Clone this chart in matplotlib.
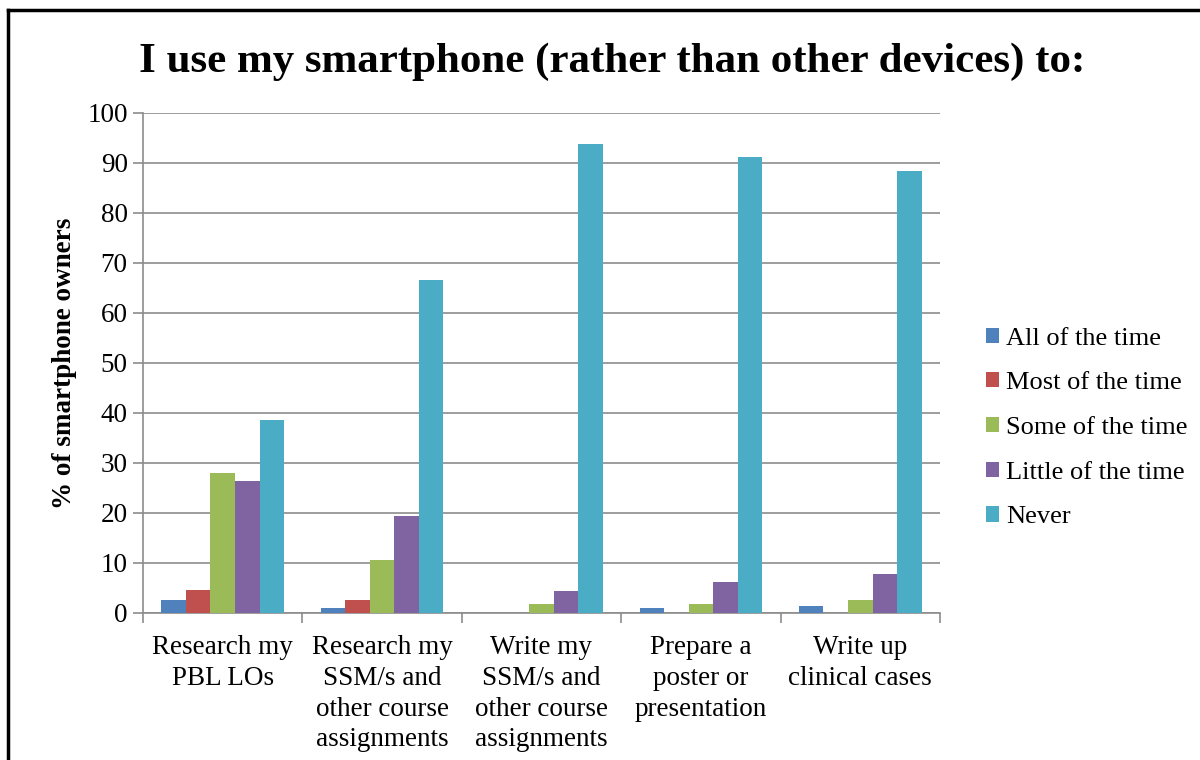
import numpy as np
import matplotlib.pyplot as plt
from matplotlib.lines import Line2D

plt.rcParams['font.family'] = ['Liberation Serif', 'DejaVu Serif']

categories = ["Research my\nPBL LOs",
              "Research my\nSSM/s and\nother course\nassignments",
              "Write my\nSSM/s and\nother course\nassignments",
              "Prepare a\nposter or\npresentation",
              "Write up\nclinical cases"]
series_names = ["All of the time", "Most of the time", "Some of the time",
                "Little of the time", "Never"]
all_time = [2.7, 1.0, 0, 1.0, 1.4]
most_time = [4.6, 2.7, 0, 0, 0]
some_time = [28.1, 10.6, 1.8, 1.8, 2.7]
little_time = [26.4, 19.4, 4.5, 6.3, 7.8]
never = [38.6, 66.6, 93.8, 91.2, 88.4]
colors = ["#4F81BD", "#C0504D", "#9BBB59", "#8064A2", "#4BACC6"]

series = [all_time, most_time, some_time, little_time, never]

fig = plt.figure(figsize=(12, 7.6), dpi=100)
ax = fig.add_axes([143/1200, 1 - 613/760, (940-143)/1200, 500/760])

x = np.arange(len(categories))
w = 0.154
for i, (vals, name, c) in enumerate(zip(series, series_names, colors)):
    ax.bar(x + (i - 2) * w, vals, w, color=c, label=name, zorder=3)

ax.set_xlim(-0.5, len(categories) - 0.5)
ax.set_ylim(0, 100)
ax.set_yticks(np.arange(0, 101, 10))
ax.yaxis.grid(True, color="#8c8c8c", linewidth=1.2, zorder=0)
ax.set_xticks(np.arange(-0.5, len(categories), 1.0))
ax.set_xticklabels([])
ax.set_xticks(x, minor=True)
ax.set_xticklabels(categories, minor=True, fontsize=19.5, linespacing=1.3)
ax.tick_params(axis="x", which="minor", length=0, pad=16)
ax.tick_params(axis="x", which="major", length=7, color="#8c8c8c", width=1.2)
ax.tick_params(axis="y", length=7, color="#8c8c8c", width=1.2, labelsize=19.5, pad=4)
for s in ["top", "right"]:
    ax.spines[s].set_visible(False)
for s in ["left", "bottom"]:
    ax.spines[s].set_color("#8c8c8c")
    ax.spines[s].set_linewidth(1.2)

ax.set_ylabel("% of smartphone owners", fontsize=19.5, fontweight="bold", labelpad=7)

fig.text(0.51, 1 - 62/760, "I use my smartphone (rather than other devices) to:",
         ha="center", va="center", fontsize=31, fontweight="bold")

leg = ax.legend(loc="center left", bbox_to_anchor=((973-143)/797, 0.37), frameon=False,
                fontsize=19, handlelength=0.5, handleheight=0.5, borderpad=0,
                handletextpad=0.25, labelspacing=0.86)

fig.add_artist(Line2D([8/1200, 1], [1 - 10/760, 1 - 10/760], color="black", linewidth=2.5))
fig.add_artist(Line2D([8/1200, 8/1200], [0, 1 - 10/760], color="black", linewidth=2.5))

fig.savefig("out.png", dpi=100)
